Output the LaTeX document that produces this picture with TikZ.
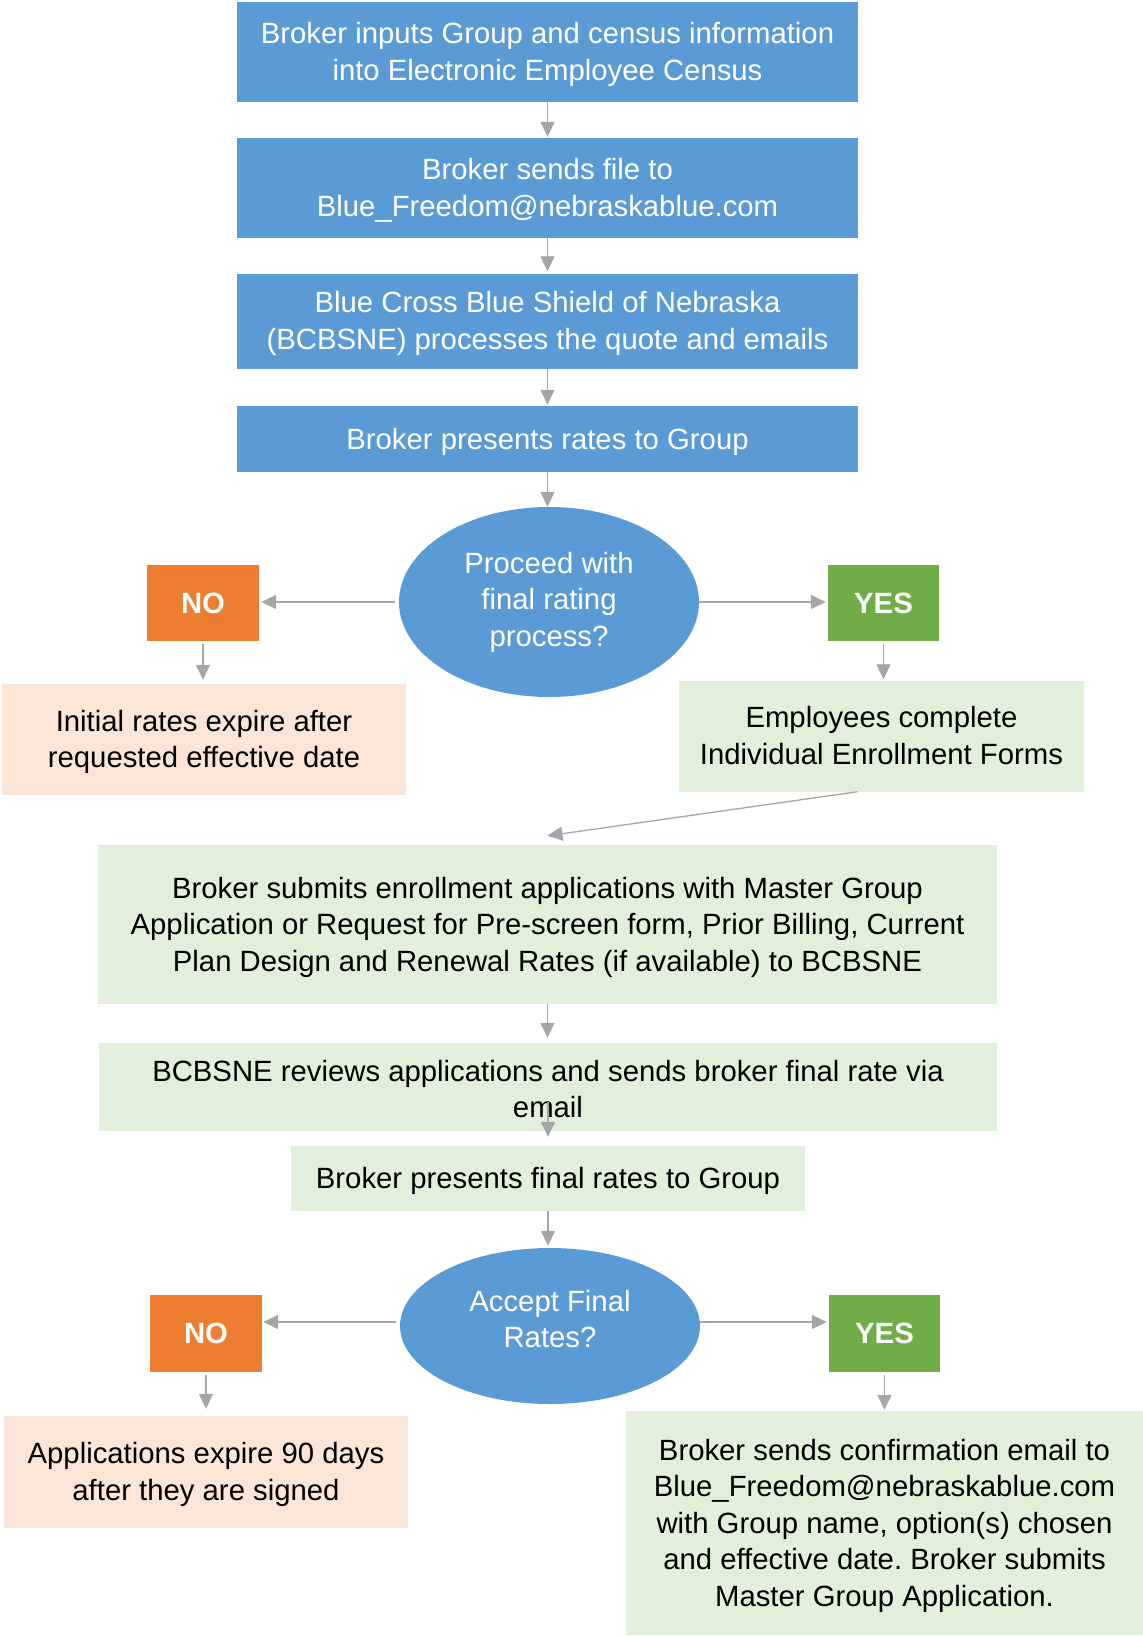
\documentclass[tikz,border=0pt]{standalone}
\usepackage{fontspec}
\setmainfont{Liberation Sans}
\usetikzlibrary{shapes.geometric,arrows.meta}
\definecolor{bblue}{HTML}{5B9BD5}
\definecolor{borange}{HTML}{ED7D31}
\definecolor{bgreen}{HTML}{70AD47}
\definecolor{lgreen}{HTML}{E2EFDA}
\definecolor{lpeach}{HTML}{FBE5D6}
\definecolor{agray}{HTML}{A5A5A5}
\newcommand{\pptop}{\rule{0pt}{26.5pt}}
\frenchspacing
\begin{document}
\begin{tikzpicture}[x=1pt,y=-1pt,
  every node/.style={font=\fontsize{29.3}{36.5}\selectfont, inner sep=0pt, align=center},
  pptext/.style={execute at begin node={\rule{0pt}{26.5pt}}, execute at end node={\rule[-6.2pt]{0pt}{6.2pt}}},
  bluebox/.style={rectangle, fill=bblue, text=white, minimum width=621pt, pptext},
  greenbox/.style={rectangle, fill=lgreen, text=black, pptext},
  peachbox/.style={rectangle, fill=lpeach, text=black, minimum width=404pt, pptext},
  decision/.style={ellipse, fill=bblue, text=white, minimum width=300pt},
  nobox/.style={rectangle, fill=borange, text=white, font=\fontsize{29.3}{36.5}\selectfont\bfseries, minimum width=112pt},
  yesbox/.style={rectangle, fill=bgreen, text=white, font=\fontsize{29.3}{36.5}\selectfont\bfseries, minimum width=111pt},
  arr/.style={draw=agray, line width=1.3pt, -{Triangle[length=15pt,width=14pt]}}
]
\useasboundingbox (0,0) rectangle (1143,1636);

\node[bluebox, minimum height=100pt] (b1) at (547.5,52) {\pptop Broker inputs Group and census information\\into Electronic Employee Census};
\node[bluebox, minimum height=100pt] (b2) at (547.5,188) {\pptop Broker sends file to\\Blue\_Freedom@nebraskablue.com};
\node[bluebox, minimum height=95pt] (b3) at (547.5,321) {\pptop Blue Cross Blue Shield of Nebraska\\(BCBSNE) processes the quote and emails};
\node[bluebox, minimum height=66pt] (b4) at (547.5,439) {Broker presents rates to Group};

\node[decision, minimum height=190pt] (e1) at (549,602) {Proceed with\\final rating\\process?};
\node[nobox, minimum height=76pt] (no1) at (203,603) {NO};
\node[yesbox, minimum height=76pt] (yes1) at (883.5,603) {YES};
\node[peachbox, minimum height=111pt] (init) at (204,739.5) {\pptop Initial rates expire after\\requested effective date};
\node[greenbox, minimum width=405pt, minimum height=111pt] (emp) at (881.5,736) {\pptop Employees complete\\Individual Enrollment Forms};

\node[greenbox, minimum width=899pt, minimum height=159pt] (sub) at (547.5,924.5) {\pptop Broker submits enrollment applications with Master Group\\Application or Request for Pre-screen form, Prior Billing, Current\\Plan Design and Renewal Rates (if available) to BCBSNE};
\node[greenbox, minimum width=898pt, minimum height=88pt, execute at end node={\rule[-2pt]{0pt}{2pt}}] (rev) at (548,1087) {\rule{0pt}{31pt}BCBSNE reviews applications and sends broker final rate via\\email};
\node[greenbox, minimum width=514pt, minimum height=65pt] (fin) at (548,1178.5) {Broker presents final rates to Group};

\node[decision, minimum height=156pt, execute at end node={\rule[-14pt]{0pt}{14pt}}] (e2) at (550,1326) {Accept Final\\Rates?};
\node[nobox, minimum height=77pt] (no2) at (206,1333.5) {NO};
\node[yesbox, minimum height=77pt] (yes2) at (884.5,1333.5) {YES};
\node[peachbox, minimum height=112pt] (apps) at (206,1472) {\pptop Applications expire 90 days\\after they are signed};
\node[greenbox, minimum width=517pt, minimum height=224pt] (conf) at (884.5,1523) {\pptop Broker sends confirmation email to\\Blue\_Freedom@nebraskablue.com\\with Group name, option(s) chosen\\and effective date. Broker submits\\Master Group Application.};

\draw[arr] (b1.south) -- ([yshift=1pt]b2.north);
\draw[arr, shorten >=2pt] (b2.south) -- (b3.north);
\draw[arr, shorten >=1pt] (b3.south) -- (b4.north);
\draw[arr] (b4.south) -- (b4.south |- e1.north);
\draw[arr, shorten <=4pt, shorten >=2pt] (e1.west) -- (e1.west -| no1.east);
\draw[arr, shorten >=2pt] (e1.east) -- (e1.east -| yes1.west);
\draw[arr, shorten <=3pt, shorten >=4pt] (no1.south) -- (no1.south |- init.north);
\draw[arr, shorten <=3pt, shorten >=1pt] (yes1.south) -- (yes1.south |- emp.north);
\draw[arr] ([xshift=-24pt]emp.south) -- ([yshift=9pt]sub.north);
\draw[arr, shorten >=5pt] (sub.south) -- (sub.south |- rev.north);
\draw[arr, shorten >=9pt] ([yshift=29pt]rev.south) -- (rev.south |- fin.north);
\draw[arr, shorten >=2pt] (fin.south) -- (fin.south |- e2.north);
\draw[arr, shorten <=4pt, shorten >=1pt] ([yshift=4pt]e2.west) -- ([yshift=11.5pt]no2.east);
\draw[arr, shorten >=2pt] ([yshift=4pt]e2.east) -- ([yshift=11.5pt]yes2.west);
\draw[arr, shorten <=3pt, shorten >=7pt] (no2.south) -- (no2.south |- apps.north);
\draw[arr, shorten <=3pt, shorten >=1pt] (yes2.south) -- (yes2.south |- conf.north);
\end{tikzpicture}
\end{document}
